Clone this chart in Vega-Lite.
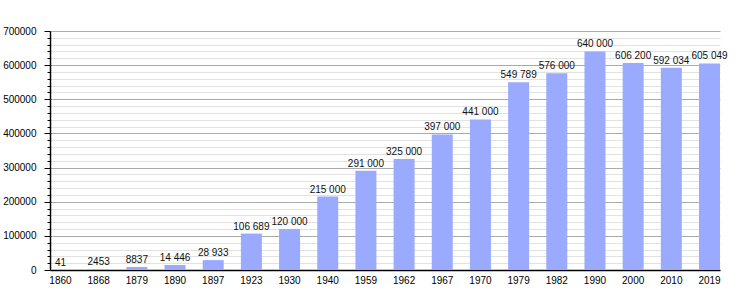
{
  "$schema": "https://vega.github.io/schema/vega-lite/v6.json",
  "width": 670,
  "height": 239,
  "autosize": {"type": "none"},
  "padding": {"left": 50, "top": 31, "right": 30, "bottom": 30},
  "background": "white",
  "config": {
    "view": {"stroke": null},
    "font": "Liberation Sans",
    "axis": {"labelFont": "Liberation Sans", "labelFontSize": 10, "labelColor": "#000"}
  },
  "data": {
    "values": [
      {"year": "1860", "pop": 41, "label": "41"},
      {"year": "1868", "pop": 2453, "label": "2453"},
      {"year": "1879", "pop": 8837, "label": "8837"},
      {"year": "1890", "pop": 14446, "label": "14 446"},
      {"year": "1897", "pop": 28933, "label": "28 933"},
      {"year": "1923", "pop": 106689, "label": "106 689"},
      {"year": "1930", "pop": 120000, "label": "120 000"},
      {"year": "1940", "pop": 215000, "label": "215 000"},
      {"year": "1959", "pop": 291000, "label": "291 000"},
      {"year": "1962", "pop": 325000, "label": "325 000"},
      {"year": "1967", "pop": 397000, "label": "397 000"},
      {"year": "1970", "pop": 441000, "label": "441 000"},
      {"year": "1979", "pop": 549789, "label": "549 789"},
      {"year": "1982", "pop": 576000, "label": "576 000"},
      {"year": "1990", "pop": 640000, "label": "640 000"},
      {"year": "2000", "pop": 606200, "label": "606 200"},
      {"year": "2010", "pop": 592034, "label": "592 034"},
      {"year": "2019", "pop": 605049, "label": "605 049"}
    ]
  },
  "encoding": {
    "x": {
      "field": "year",
      "type": "nominal",
      "sort": null,
      "scale": {"paddingInner": 0.45, "paddingOuter": 0},
      "axis": {
        "title": null,
        "labelAngle": 0,
        "ticks": false,
        "tickSize": 0,
        "labelPadding": 5,
        "domainColor": "#000",
        "domainWidth": 1.5,
        "grid": false
      }
    }
  },
  "layer": [
    {
      "mark": {"type": "bar", "color": "#99aaff"},
      "encoding": {
        "y": {
          "field": "pop",
          "type": "quantitative",
          "scale": {"domain": [0, 700000], "nice": false},
          "axis": {
            "orient": "left",
            "title": null,
            "values": [0, 100000, 200000, 300000, 400000, 500000, 600000, 700000],
            "format": "d",
            "grid": true,
            "gridColor": "#aaaaaa",
            "gridWidth": 1,
            "tickColor": "#000",
            "tickSize": 6,
            "labelPadding": 8,
            "domainColor": "#000",
            "domainWidth": 1.5,
            "zindex": 0
          }
        }
      }
    },
    {
      "mark": {"type": "text", "baseline": "alphabetic", "dy": -4, "fontSize": 10, "color": "#111"},
      "encoding": {
        "y": {
          "field": "pop",
          "type": "quantitative",
          "axis": {
            "orient": "left",
            "title": null,
            "values": [20000, 40000, 60000, 80000, 120000, 140000, 160000, 180000, 220000, 240000, 260000, 280000, 320000, 340000, 360000, 380000, 420000, 440000, 460000, 480000, 520000, 540000, 560000, 580000, 620000, 640000, 660000, 680000],
            "labels": false,
            "domain": false,
            "grid": true,
            "gridColor": "#e2e2e2",
            "gridWidth": 1,
            "tickColor": "#000",
            "tickSize": 3,
            "zindex": 0
          }
        },
        "text": {"field": "label"}
      }
    }
  ],
  "resolve": {"scale": {"y": "shared"}, "axis": {"y": "independent"}}
}
